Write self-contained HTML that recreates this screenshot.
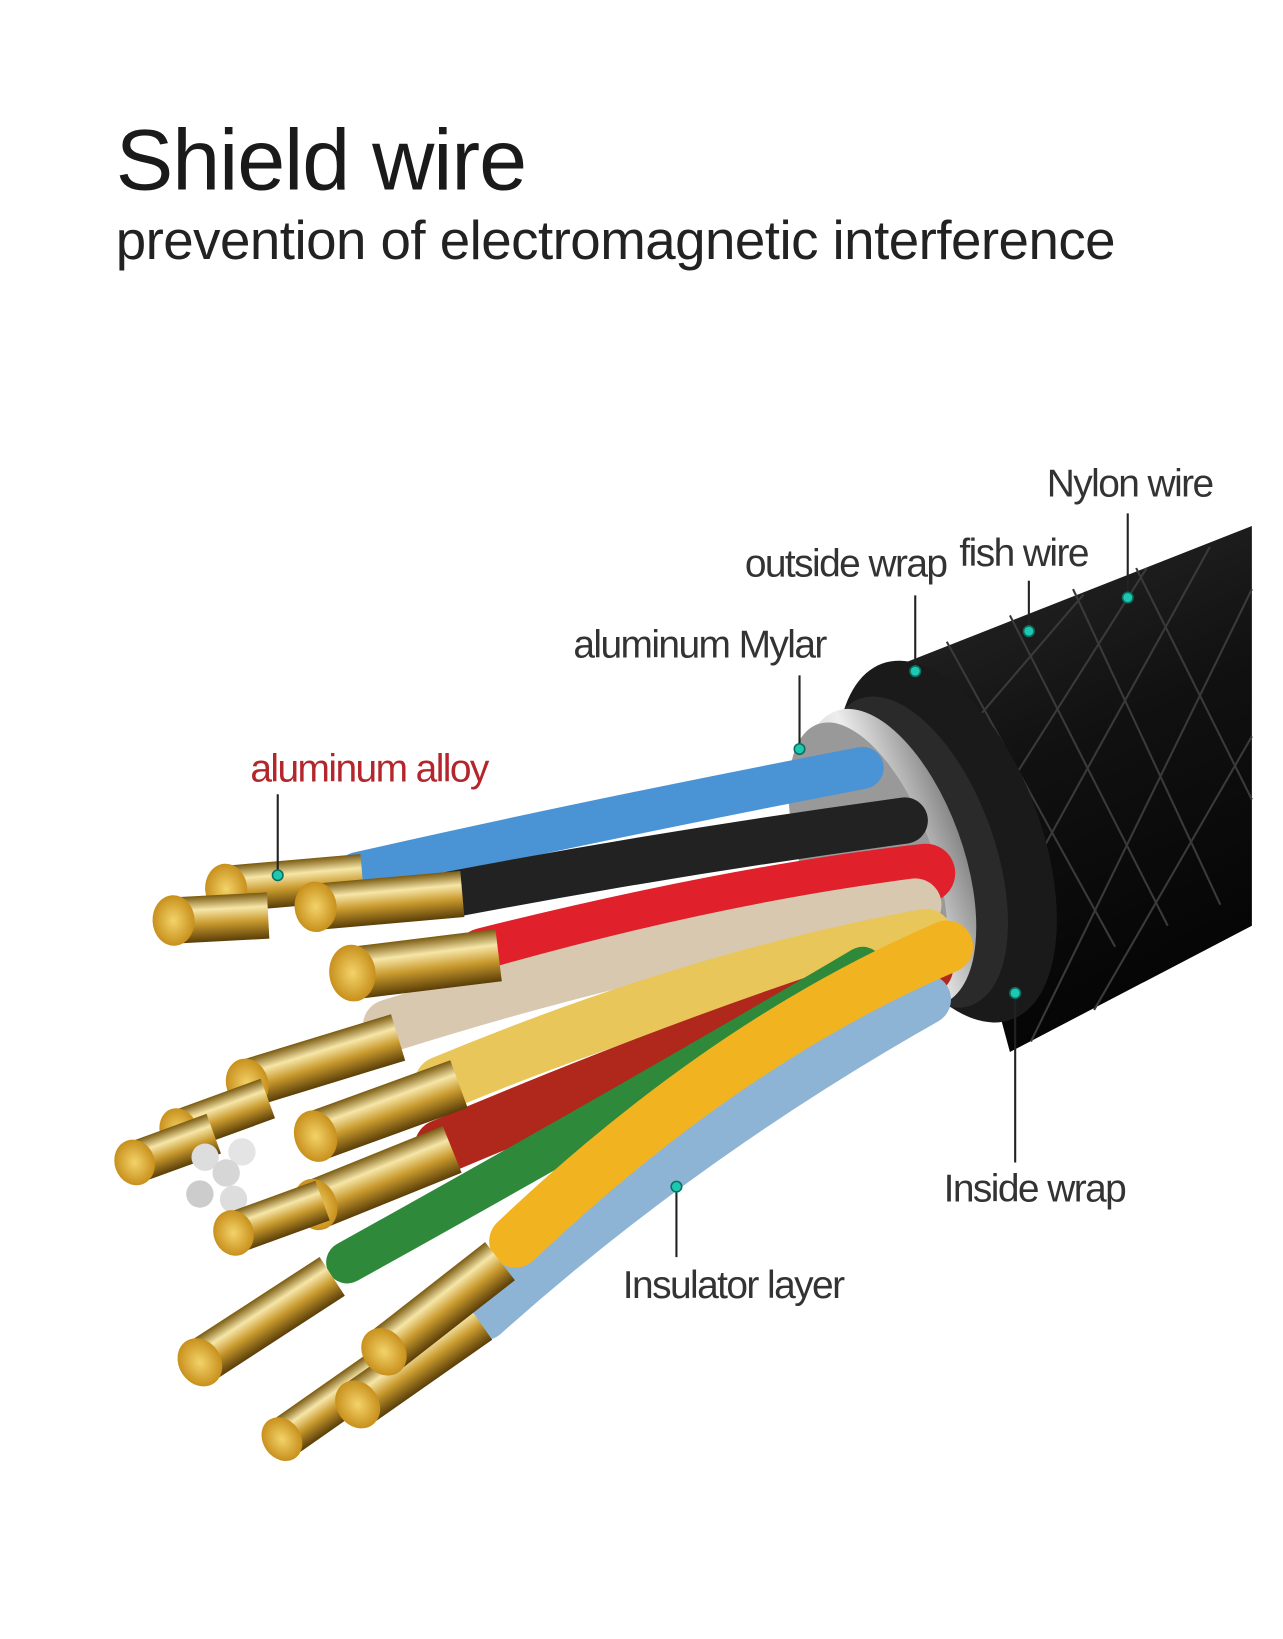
<!DOCTYPE html>
<html><head><meta charset="utf-8"><style>
html,body{margin:0;padding:0;background:#fff}
svg{display:block}
</style></head><body>
<svg width="1283" height="1639" viewBox="0 0 1283 1639" xmlns="http://www.w3.org/2000/svg" font-family="Liberation Sans, sans-serif">
<defs>
<linearGradient id="gold" x1="0" y1="0" x2="0" y2="1">
<stop offset="0" stop-color="#7a5a10"/><stop offset="0.3" stop-color="#f6e6a8"/><stop offset="0.6" stop-color="#c99a2e"/><stop offset="1" stop-color="#5a3e08"/></linearGradient>
<radialGradient id="tip"><stop offset="0" stop-color="#f3d36a"/><stop offset="1" stop-color="#c8901c"/></radialGradient>
<linearGradient id="jk" x1="0" y1="0" x2="0.3" y2="1"><stop offset="0" stop-color="#2a2a2a"/><stop offset="0.5" stop-color="#111"/><stop offset="1" stop-color="#050505"/></linearGradient>
<linearGradient id="sil" x1="0" y1="0" x2="1" y2="0"><stop offset="0" stop-color="#bbb"/><stop offset="0.5" stop-color="#eee"/><stop offset="1" stop-color="#888"/></linearGradient>
</defs>
<g transform="scale(1.052)">
<text x="110" y="180" font-size="82" fill="#1a1a1a" letter-spacing="-1">Shield wire</text>
<text x="110" y="246" font-size="52" fill="#222" letter-spacing="-0.5">prevention of electromagnetic interference</text>

<path d="M860,630 L1190,500 L1190,880 L960,1000 Z" fill="url(#jk)"/>
<g stroke="#3a3a3a" stroke-width="2" fill="none">
<path d="M900,610 L1060,900"/><path d="M960,585 L1110,880"/><path d="M1020,560 L1160,860"/><path d="M1080,540 L1190,760"/>
<path d="M1190,560 L980,990"/><path d="M1150,520 L940,900"/><path d="M1090,540 L900,840"/><path d="M1030,565 L880,740"/><path d="M1190,700 L1040,960"/>
</g>
<ellipse cx="900" cy="800" rx="90" ry="180" transform="rotate(-20 900 800)" fill="#1a1a1a"/>
<ellipse cx="870" cy="810" rx="75" ry="155" transform="rotate(-20 870 810)" fill="#2a2a2a"/>
<ellipse cx="845" cy="815" rx="70" ry="148" transform="rotate(-20 845 815)" fill="url(#sil)"/>
<ellipse cx="825" cy="820" rx="62" ry="140" transform="rotate(-20 825 820)" fill="#999"/>

<g stroke-linecap="round" fill="none">
<path d="M340,830 Q560,780 820,730" stroke="#4a94d6" stroke-width="40"/>
<path d="M430,850 Q640,810 860,780" stroke="#222" stroke-width="44"/>
<path d="M460,910 Q700,850 880,830" stroke="#e0202a" stroke-width="56"/>
<path d="M370,975 Q640,890 870,860" stroke="#d8c8b0" stroke-width="50"/>
<path d="M420,1030 Q660,930 880,890" stroke="#e8c65a" stroke-width="52"/>
<path d="M420,1090 Q680,980 880,920" stroke="#b0281c" stroke-width="52"/>
<path d="M330,1200 Q600,1050 820,920" stroke="#2e8a3a" stroke-width="40"/>
<path d="M460,1250 Q650,1080 880,950" stroke="#8db4d4" stroke-width="48"/>
<path d="M490,1180 Q690,990 900,900" stroke="#f2b320" stroke-width="50"/>
</g>
<g>
<g transform="rotate(-5 215 845)"><rect x="215" y="823" width="130" height="44" fill="url(#gold)"/><ellipse cx="215" cy="845" rx="20" ry="24" fill="url(#tip)"/></g>
<g transform="rotate(-3 165 875)"><rect x="165" y="853" width="90" height="44" fill="url(#gold)"/><ellipse cx="165" cy="875" rx="20" ry="24" fill="url(#tip)"/></g>
<g transform="rotate(-5 300 862)"><rect x="300" y="840" width="140" height="44" fill="url(#gold)"/><ellipse cx="300" cy="862" rx="20" ry="24" fill="url(#tip)"/></g>
<g transform="rotate(-7 335 925)"><rect x="335" y="900" width="140" height="50" fill="url(#gold)"/><ellipse cx="335" cy="925" rx="22" ry="27" fill="url(#tip)"/></g>
<g transform="rotate(-17 235 1030)"><rect x="235" y="1007" width="150" height="46" fill="url(#gold)"/><ellipse cx="235" cy="1030" rx="20" ry="24" fill="url(#tip)"/></g>
<g transform="rotate(-20 170 1075)"><rect x="170" y="1055" width="90" height="40" fill="url(#gold)"/><ellipse cx="170" cy="1075" rx="18" ry="22" fill="url(#tip)"/></g>
<g transform="rotate(-20 128 1105)"><rect x="128" y="1085" width="80" height="40" fill="url(#gold)"/><ellipse cx="128" cy="1105" rx="19" ry="22" fill="url(#tip)"/></g>
<circle cx="195" cy="1100" r="13" fill="#ddd"/><circle cx="230" cy="1095" r="13" fill="#e4e4e4"/><circle cx="215" cy="1115" r="13" fill="#d6d6d6"/><circle cx="190" cy="1135" r="13" fill="#ccc"/><circle cx="222" cy="1140" r="13" fill="#ddd"/>
<g transform="rotate(-20 300 1080)"><rect x="300" y="1056" width="145" height="48" fill="url(#gold)"/><ellipse cx="300" cy="1080" rx="20" ry="25" fill="url(#tip)"/></g>
<g transform="rotate(-22 300 1145)"><rect x="300" y="1121" width="140" height="48" fill="url(#gold)"/><ellipse cx="300" cy="1145" rx="20" ry="25" fill="url(#tip)"/></g>
<g transform="rotate(-20 222 1172)"><rect x="222" y="1152" width="90" height="40" fill="url(#gold)"/><ellipse cx="222" cy="1172" rx="19" ry="22" fill="url(#tip)"/></g>
<g transform="rotate(-33 190 1295)"><rect x="190" y="1273" width="150" height="44" fill="url(#gold)"/><ellipse cx="190" cy="1295" rx="20" ry="24" fill="url(#tip)"/></g>
<g transform="rotate(-35 268 1368)"><rect x="268" y="1348" width="120" height="40" fill="url(#gold)"/><ellipse cx="268" cy="1368" rx="18" ry="22" fill="url(#tip)"/></g>
<g transform="rotate(-35 340 1335)"><rect x="340" y="1312" width="140" height="46" fill="url(#gold)"/><ellipse cx="340" cy="1335" rx="20" ry="24" fill="url(#tip)"/></g>
<g transform="rotate(-38 365 1285)"><rect x="365" y="1262" width="140" height="46" fill="url(#gold)"/><ellipse cx="365" cy="1285" rx="20" ry="24" fill="url(#tip)"/></g>
</g>

<g font-size="37" fill="#333" letter-spacing="-1.5">
<text x="995" y="472">Nylon wire</text>
<text x="708" y="548">outside wrap</text>
<text x="912" y="538">fish wire</text>
<text x="545" y="625">aluminum Mylar</text>
<text x="238" y="743" fill="#b3262c">aluminum alloy</text>
<text x="897" y="1142">Inside wrap</text>
<text x="592" y="1234">Insulator layer</text>
</g>
<g stroke="#222" stroke-width="2">
<line x1="1072" y1="488" x2="1072" y2="566"/>
<line x1="978" y1="552" x2="978" y2="598"/>
<line x1="870" y1="566" x2="870" y2="636"/>
<line x1="760" y1="642" x2="760" y2="710"/>
<line x1="264" y1="755" x2="264" y2="830"/>
<line x1="965" y1="944" x2="965" y2="1105"/>
<line x1="643" y1="1130" x2="643" y2="1195"/>
</g>
<g fill="#1ec8b0" stroke="#0a6e60" stroke-width="1.5">
<circle cx="1072" cy="568" r="5"/><circle cx="978" cy="600" r="5"/><circle cx="870" cy="638" r="5"/><circle cx="760" cy="712" r="5"/><circle cx="264" cy="832" r="5"/><circle cx="965" cy="944" r="5"/><circle cx="643" cy="1128" r="5"/>
</g>
</g>
</svg>
</body></html>
